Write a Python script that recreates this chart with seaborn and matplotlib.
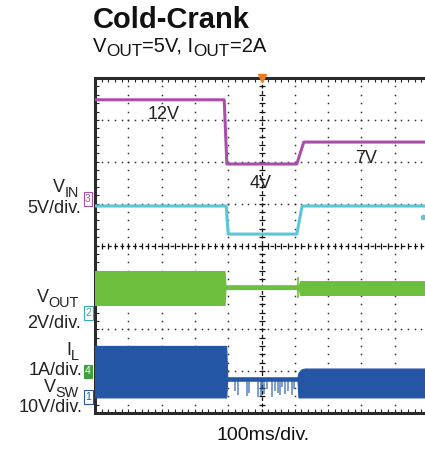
import numpy as np
import pandas as pd
import matplotlib
matplotlib.use("Agg")
import matplotlib.pyplot as plt
import matplotlib.transforms as mtransforms
import seaborn as sns

# ---------------- data (time in ms, 100 ms/div, trigger at t=0) ----------------
# V_IN (5 V/div)
vin_t = [-500, -112, -104, 106, 127, 500]
vin_v = [11.85, 11.85, 4.18, 4.18, 6.8, 6.8]
# V_OUT (2 V/div)
vout_t = [-500, -106, -100, 106, 122, 500]
vout_v = [5.11, 5.11, 3.77, 3.77, 5.11, 5.11]
# I_L envelope (1 A/div)
il_t = [-500, -111, -108, 112, 116, 500]
il_hi = [2.39, 2.39, 2.05, 2.05, 2.15, 2.15]
il_lo = [1.58, 1.58, 1.96, 1.96, 1.82, 1.82]
il_spike_t = [111]
il_spike_hi = [2.25]
il_spike_lo = [1.75]
# V_SW envelope (10 V/div)
vsw_t = [-500, -106, -103, 108, 111, 120, 130, 500]
vsw_hi = [12.2, 12.2, 4.7, 4.7, 5.8, 6.6, 6.8, 6.8]
vsw_lo = [-0.1, -0.1, 3.9, 3.9, -0.1, -0.1, -0.1, -0.1]
vsw_spike_t = [-79, -70, -43, -37, -10, -2, 2, 8, 16, 32, 41, 49, 56, 62, 70, 80, 91, 98]
vsw_spike_lo = [1.5, 0.5, 0.2, 1.0, 0.0, 0.3, 1.5, 0.8, 2.0, 0.0, 1.5, 1.0, 0.5, 2.5, 0.8, 1.5, 0.5, 2.0]
vsw_spike_top = 4.0

# channel (ground offset in div, volts-per-div)
ch_vin = (1.11, 5.0)
ch_vout = (-1.612, 2.0)
ch_il = (-3.0, 1.0)
ch_vsw = (-3.618, 10.0)

labels_annot = ["12V", "4V", "7V"]

C_VIN = "#a94fab"
C_VOUT = "#5bc6d6"
C_IL = "#6dbf3d"
C_VSW = "#2555a5"
C_TRIG = "#f07a22"


def to_div(v, ch):
    return ch[0] + np.asarray(v, dtype=float) / ch[1]


# ---------------- figure ----------------
sns.set_theme(style="white")
plt.rcParams["font.family"] = ["Liberation Sans", "DejaVu Sans"]

W, H = 425, 450
fig = plt.figure(figsize=(W / 100, H / 100), dpi=100)
fig.patch.set_facecolor("white")
L, T, R, B = 95, 78, 428, 413
ax = fig.add_axes([L / W, 1 - B / H, (R - L) / W, (B - T) / H])
ax.set_facecolor("white")
ax.set_xlim(-500, 500)
ax.set_ylim(-4, 4)

# grid dots
xmaj = np.arange(-400, 401, 100)
ymaj = np.arange(-3, 4, 1)
xmin = np.arange(-500, 501, 20)
ymin = np.arange(-4, 4.01, 0.2)
for xv in xmaj:
    if xv == 0:
        continue
    ax.plot(np.full_like(ymin, xv), ymin, ls="none", marker="s", ms=1.1, color="#333", mew=0, zorder=1)
for yv in ymaj:
    if yv == 0:
        continue
    ax.plot(xmin, np.full_like(xmin, yv, dtype=float), ls="none", marker="s", ms=1.1, color="#333", mew=0, zorder=1)
# center cross lines
ax.axvline(0, color="#111", lw=0.9, ls=(0, (3, 2)), zorder=1)
ax.axhline(0, color="#111", lw=0.9, ls=(0, (3, 2)), zorder=1)
ax.plot(np.zeros_like(ymin), ymin, ls="none", marker="_", ms=5, mew=0.9, color="#111", zorder=1)
ax.plot(xmin, np.zeros_like(xmin, dtype=float), ls="none", marker="|", ms=5, mew=0.9, color="#111", zorder=1)

# traces
df_vin = pd.DataFrame({"t": vin_t, "y": to_div(vin_v, ch_vin)})
sns.lineplot(data=df_vin, x="t", y="y", ax=ax, color=C_VIN, lw=2.2, estimator=None, sort=False, zorder=3)
df_vout = pd.DataFrame({"t": vout_t, "y": to_div(vout_v, ch_vout)})
sns.lineplot(data=df_vout, x="t", y="y", ax=ax, color=C_VOUT, lw=2.2, estimator=None, sort=False, zorder=3)

ax.fill_between(il_t, to_div(il_hi, ch_il), to_div(il_lo, ch_il), color=C_IL, lw=0.8, edgecolor=C_IL, zorder=3)
ax.vlines(il_spike_t, to_div(il_spike_lo, ch_il), to_div(il_spike_hi, ch_il), color=C_IL, lw=1.2, zorder=3)

ax.fill_between(vsw_t, to_div(vsw_hi, ch_vsw), to_div(vsw_lo, ch_vsw), color=C_VSW, lw=0.8, edgecolor=C_VSW, zorder=3)
ax.vlines(vsw_spike_t, to_div(vsw_spike_lo, ch_vsw), to_div([vsw_spike_top] * len(vsw_spike_t), ch_vsw),
          color=C_VSW, lw=1.1, alpha=0.75, zorder=3)

# annotations
afs = 13
ax.text(-343, 3.02, labels_annot[0], fontsize=afs, color="#222", va="baseline", ha="left", zorder=4)
ax.text(-35, 1.37, labels_annot[1], fontsize=afs, color="#222", va="baseline", ha="left", zorder=4)
ax.text(280, 1.97, labels_annot[2], fontsize=afs, color="#222", va="baseline", ha="left", zorder=4)

# trigger marker and right dot
ax.plot([0], [4], marker="v", ms=6, color=C_TRIG, clip_on=False, zorder=6)
ax.plot([484], [0.68], marker="o", ms=3, color=C_VOUT, clip_on=False, zorder=6)

# spines and ticks
for s in ["left", "top", "bottom"]:
    ax.spines[s].set_visible(True)
    ax.spines[s].set_color("#2a2a2a")
    ax.spines[s].set_linewidth(2.2)
ax.spines["right"].set_visible(False)
ax.set_xticks(np.arange(-500, 501, 100))
ax.set_yticks(np.arange(-4, 5, 1))
ax.set_xticks(xmin, minor=True)
ax.set_yticks(ymin, minor=True)
ax.tick_params(which="both", direction="in", length=3, width=0.8, color="#222",
               top=True, bottom=True, left=True, right=False,
               labelbottom=False, labelleft=False)
ax.set_xlabel("")
ax.set_ylabel("")

# channel markers
btr = mtransforms.blended_transform_factory(fig.transFigure, ax.transData)
mk_x = 88 / W
for txt, ch, ec, fc, tc in [("3", ch_vin, C_VIN, "white", C_VIN),
                            ("2", ch_vout, "#3aa7a8", "white", "#3aa7a8"),
                            ("4", ch_il, "#3f9f3a", "#3f9f3a", "white"),
                            ("1", ch_vsw, C_VSW, "white", C_VSW)]:
    fig.text(mk_x, ch[0], txt, transform=btr, fontsize=7.5, color=tc, ha="center", va="center",
             bbox=dict(boxstyle="square,pad=0.15", fc=fc, ec=ec, lw=0.8), zorder=5)

renderer = fig.canvas.get_renderer()


def rich(x, y, parts, fs, ha="left", weight="normal", color="#222", sub_scale=0.8, sub_drop=0.26):
    """parts: list of (text, is_subscript); x,y in pixels from top-left; y is baseline."""
    px_per_pt = 100 / 72
    items = []
    total = 0.0
    for s, sub in parts:
        size = fs * sub_scale if sub else fs
        t = fig.text(0, 0, s, fontsize=size, fontweight=weight, color=color, ha="left", va="baseline")
        w = t.get_window_extent(renderer).width
        items.append((t, w, sub))
        total += w
    cx = x - total if ha == "right" else (x - total / 2 if ha == "center" else x)
    for t, w, sub in items:
        yy = y + (fs * px_per_pt * sub_drop if sub else 0)
        t.set_position((cx / W, 1 - yy / H))
        cx += w


lfs = 13
rich(79, 192, [("V", False), ("IN", True)], lfs, ha="right")
rich(81, 213, [("5V/div.", False)], lfs, ha="right")
rich(79, 302, [("V", False), ("OUT", True)], lfs, ha="right")
rich(81, 328, [("2V/div.", False)], lfs, ha="right")
rich(79, 355, [("I", False), ("L", True)], lfs, ha="right")
rich(82, 375, [("1A/div.", False)], lfs, ha="right")
rich(79, 392, [("V", False), ("SW", True)], lfs, ha="right")
rich(82, 412, [("10V/div.", False)], lfs, ha="right")

# titles
rich(93, 28, [("Cold-Crank", False)], 21, weight="bold", color="#111")
rich(93, 52, [("V", False), ("OUT", True), ("=5V, I", False), ("OUT", True), ("=2A", False)], 14.5, color="#111",
     sub_scale=0.85, sub_drop=0.22)
rich(263, 440, [("100ms/div.", False)], 14, ha="center", color="#111")

fig.savefig("out.png", dpi=100, facecolor="white")
